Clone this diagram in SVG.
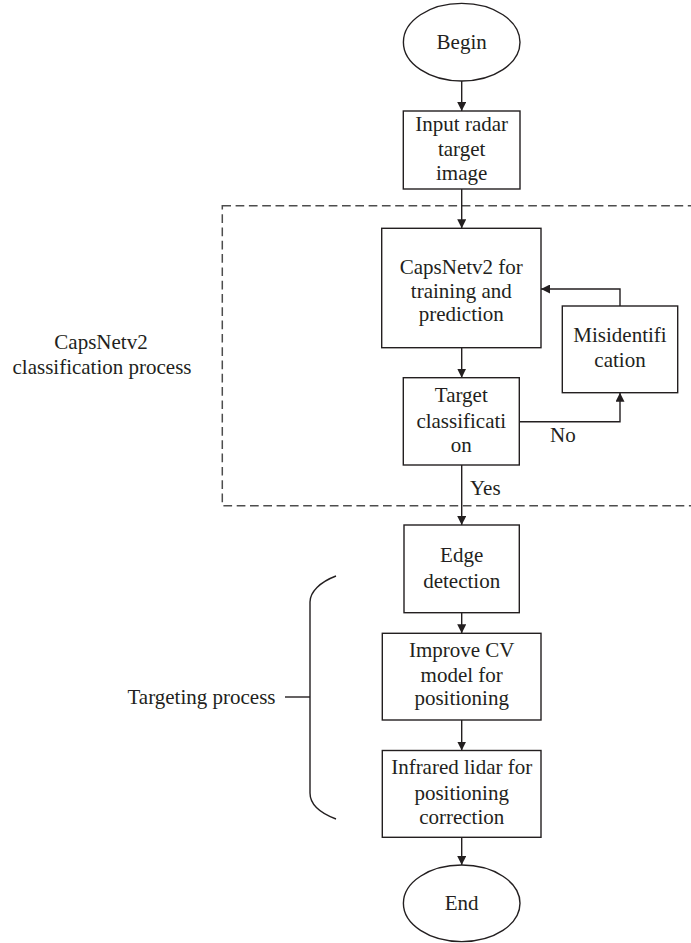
<svg xmlns="http://www.w3.org/2000/svg" width="691" height="943" viewBox="0 0 691 943">
  <style>
    .box { fill: #ffffff; stroke: #231f20; stroke-width: 1.4; }
    .wire { fill: none; stroke: #231f20; stroke-width: 1.4; }
    .dash { fill: none; stroke: #4d4d4d; stroke-width: 1.5; stroke-dasharray: 8.7 4.6; }
    text { font-family: "Liberation Serif", "Times New Roman", serif; font-size: 21px; fill: #231f20; }
    .c { text-anchor: middle; }
  </style>
  <defs>
    <marker id="arrow" viewBox="0 0 10 10" refX="10" refY="5" markerWidth="9" markerHeight="9" markerUnits="userSpaceOnUse" orient="auto">
      <path d="M0,0 L10,5 L0,10 Z" fill="#231f20"/>
    </marker>
  </defs>

  <!-- region frames and labels -->
  <g id="classification-region">
    <rect class="dash" x="222.3" y="205.7" width="480" height="300"/>
    <text class="c" x="101" y="349">CapsNetv2</text>
    <text class="c" x="102" y="373.5">classification process</text>
  </g>
  <g id="targeting-region">
    <path class="wire" d="M336,576 C320,582 310,592 310,602 L310,793 C310,804 320,813 336,819"/>
    <line class="wire" x1="285" y1="697" x2="310" y2="697"/>
    <text x="275.5" y="704" text-anchor="end">Targeting process</text>
  </g>

  <!-- connectors -->
  <g id="connectors">
    <line class="wire" x1="461.7" y1="81" x2="461.7" y2="111" marker-end="url(#arrow)"/>
    <line class="wire" x1="461.7" y1="189" x2="461.7" y2="228.3" marker-end="url(#arrow)"/>
    <line class="wire" x1="461.7" y1="347.7" x2="461.7" y2="377.7" marker-end="url(#arrow)"/>
    <polyline class="wire" points="519.3,421.7 620,421.7 620,392.7" marker-end="url(#arrow)"/>
    <polyline class="wire" points="620,306 620,289 541,289" marker-end="url(#arrow)"/>
    <line class="wire" x1="461.7" y1="465" x2="461.7" y2="525" marker-end="url(#arrow)"/>
    <line class="wire" x1="461.7" y1="612.7" x2="461.7" y2="633.3" marker-end="url(#arrow)"/>
    <line class="wire" x1="461.7" y1="720" x2="461.7" y2="750.5" marker-end="url(#arrow)"/>
    <line class="wire" x1="461.7" y1="837.3" x2="461.7" y2="865" marker-end="url(#arrow)"/>
    <text x="550" y="441.7">No</text>
    <text x="470" y="495">Yes</text>
  </g>

  <!-- nodes -->
  <g id="begin">
    <ellipse class="box" cx="461.7" cy="42.2" rx="58.3" ry="38.8"/>
    <text class="c" x="461.7" y="48.5">Begin</text>
  </g>
  <g id="input">
    <rect class="box" x="403.3" y="111" width="116.7" height="78"/>
    <text class="c" x="461.7" y="130.5">Input radar</text>
    <text class="c" x="461.7" y="155.5">target</text>
    <text class="c" x="461.7" y="180">image</text>
  </g>
  <g id="capsnet">
    <rect class="box" x="381.7" y="228.3" width="159.3" height="119.4"/>
    <text class="c" x="461.3" y="273.5">CapsNetv2 for</text>
    <text class="c" x="461.3" y="297.5">training and</text>
    <text class="c" x="461.3" y="321">prediction</text>
  </g>
  <g id="misidentification">
    <rect class="box" x="562.3" y="306" width="115.4" height="86.7"/>
    <text class="c" x="620" y="341.7">Misidentifi</text>
    <text class="c" x="620" y="366.7">cation</text>
  </g>
  <g id="target-classification">
    <rect class="box" x="403.3" y="377.7" width="116" height="87.3"/>
    <text class="c" x="461.3" y="402">Target</text>
    <text class="c" x="461.3" y="427.5">classificati</text>
    <text class="c" x="461.3" y="452">on</text>
  </g>
  <g id="edge-detection">
    <rect class="box" x="404" y="525" width="115.3" height="87.7"/>
    <text class="c" x="461.7" y="562">Edge</text>
    <text class="c" x="461.7" y="587.5">detection</text>
  </g>
  <g id="improve-cv">
    <rect class="box" x="382.3" y="633.3" width="158.7" height="86.7"/>
    <text class="c" x="461.7" y="657">Improve CV</text>
    <text class="c" x="461.7" y="681.5">model for</text>
    <text class="c" x="461.7" y="705">positioning</text>
  </g>
  <g id="infrared-lidar">
    <rect class="box" x="382.3" y="750.5" width="158.7" height="86.8"/>
    <text class="c" x="461.7" y="774">Infrared lidar for</text>
    <text class="c" x="461.7" y="799.5">positioning</text>
    <text class="c" x="461.7" y="824">correction</text>
  </g>
  <g id="end">
    <ellipse class="box" cx="461.7" cy="903.3" rx="58.3" ry="38.3"/>
    <text class="c" x="461.7" y="909.5">End</text>
  </g>
</svg>
